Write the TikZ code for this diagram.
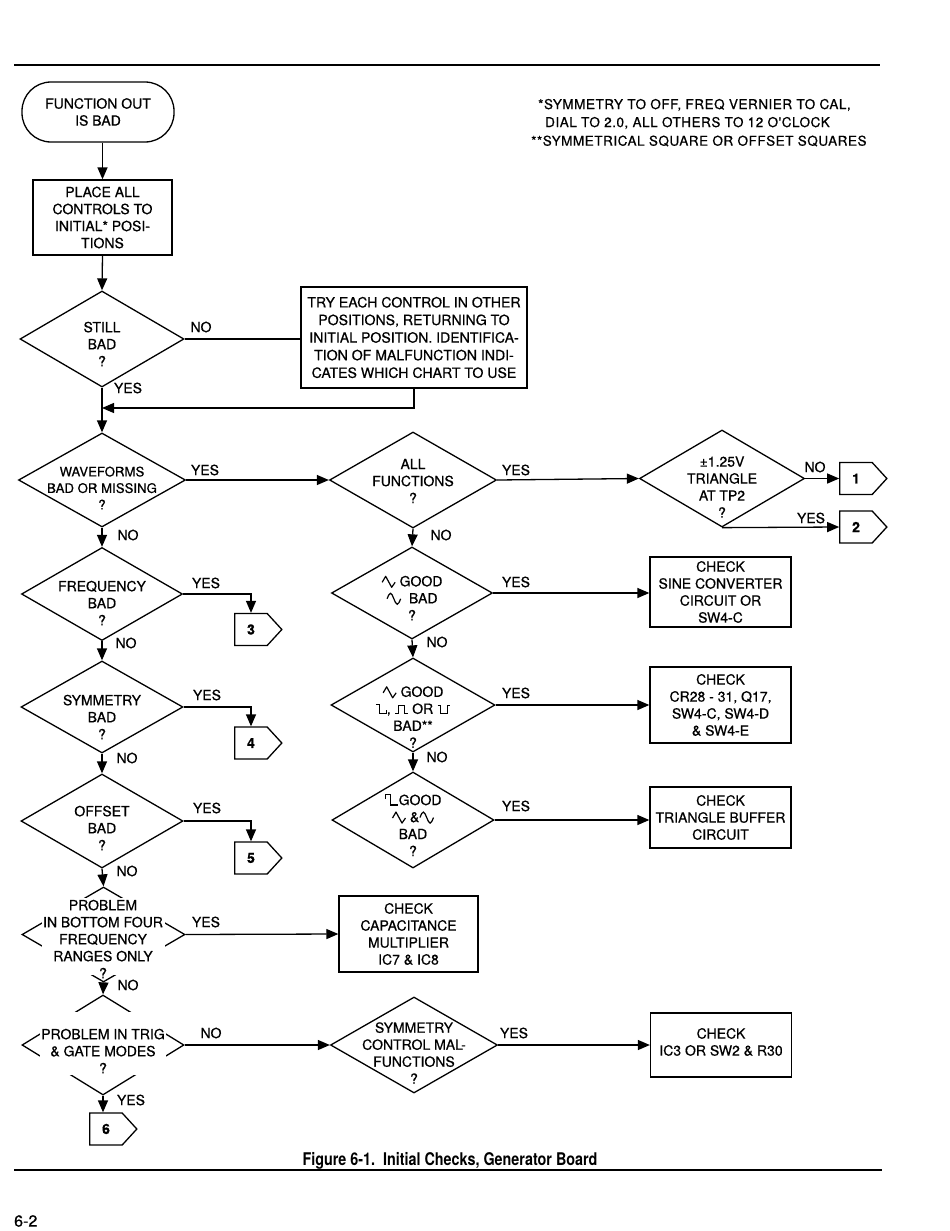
\documentclass[tikz,border=0pt]{standalone}
\usepackage{fontspec}
\setmainfont{TeX Gyre Heros}[FakeBold=0.6]
\newfontfamily\capfont{TeX Gyre Heros}[FakeStretch=0.82]
\newfontfamily\notefont{TeX Gyre Heros}[LetterSpace=4,FakeBold=0.6]
\usetikzlibrary{shapes.geometric,shapes.symbols,arrows.meta}
\newcommand{\fs}{\fontsize{14}{17}\selectfont}
\newcommand{\wtri}{\tikz[baseline=0pt,x=1pt,y=1pt]\draw[line width=1.2pt,line join=round] (0,4) -- (3.5,10) -- (9.5,-1) -- (13,4);}
\newcommand{\wsine}{\tikz[baseline=0pt,x=1pt,y=1pt]\draw[line width=1.2pt] (0,4.5) sin (3.4,10) cos (6.8,4.5) sin (10.2,-1) cos (13.6,4.5);}
\newcommand{\wsqA}{\tikz[baseline=0pt,x=1pt,y=1pt]\draw[line width=1.2pt] (0,9.5) -- (4,9.5) -- (4,0) -- (10.5,0) -- (10.5,4);}
\newcommand{\wpulse}{\tikz[baseline=0pt,x=1pt,y=1pt]\draw[line width=1.2pt] (0,0) -- (3,0) -- (3,8) -- (9.5,8) -- (9.5,0) -- (12.5,0);}
\newcommand{\wnotch}{\tikz[baseline=0pt,x=1pt,y=1pt]\draw[line width=1.2pt] (0,8) -- (3,8) -- (3,0) -- (9.5,0) -- (9.5,8) -- (12.5,8);}
\newcommand{\wsqB}{\tikz[baseline=0pt,x=1pt,y=1pt]\draw[line width=1.2pt] (0,6) -- (0,10.5) -- (5,10.5) -- (5,0) -- (13,0);}
\begin{document}
\begin{tikzpicture}[x=1pt,y=-1pt,
  every node/.style={font=\fs},
  ln/.style={line width=1.3pt},
  arr/.style={ln,-{Triangle[length=12pt,width=10pt]}},
  box/.style={draw,ln,align=center,inner sep=0pt},
  dia/.style={draw,ln,diamond,inner sep=0pt},
  txt/.style={align=center,inner sep=0pt},
  lab/.style={inner sep=0pt},
  con/.style={draw,ln,signal,signal to=east,signal pointer angle=95,inner sep=0pt,minimum width=47pt,minimum height=32pt,font=\fs\bfseries},
  mask/.style={fill=white,inner sep=0pt}]
\useasboundingbox (0,0) rectangle (950,1231);
% rules
\draw[line width=1.4pt] (14,65) -- (880,65);
\draw[line width=1.4pt] (14,1170) -- (882,1170);
% notes
\node[lab,anchor=west,font=\fontsize{13.5}{16}\selectfont\notefont] (n1) at (538,105) {*SYMMETRY TO OFF, FREQ VERNIER TO CAL,};
\node[lab,anchor=west,font=\fontsize{13.5}{16}\selectfont\notefont] (n2) at (545,123) {DIAL TO 2.0, ALL OTHERS TO 12 O'CLOCK};
\node[lab,anchor=west,font=\fontsize{13.5}{16}\selectfont\notefont] (n3) at (531,141) {**SYMMETRICAL SQUARE OR OFFSET SQUARES};
% main column
\node[draw,ln,rounded corners=29pt,minimum width=152pt,minimum height=60pt,align=center] (term) at (98,112) {FUNCTION OUT\\IS BAD};
\node[box,minimum width=139pt,minimum height=75pt] (b1) at (102.5,217.5) {PLACE ALL\\CONTROLS TO\\INITIAL* POSI-\\TIONS};
\node[dia,minimum width=164pt,minimum height=96pt] (d2) at (102,339) {};
\node[txt] (t2) at (102,344) {STILL\\BAD\\?};
\node[box,minimum width=226pt,minimum height=101pt,font=\fontsize{14.1}{17.6}\selectfont] (try) at (414,337.5) {TRY EACH CONTROL IN OTHER\\POSITIONS, RETURNING TO\\INITIAL POSITION. IDENTIFICA-\\TION OF MALFUNCTION INDI-\\CATES WHICH CHART TO USE};
\coordinate (jn) at (102,408);
\node[dia,minimum width=167pt,minimum height=94pt] (d3) at (102,480) {};
\node[txt,font=\fontsize{13.2}{16.5}\selectfont] (t3) at (102,488) {WAVEFORMS\\BAD OR MISSING\\?};
\node[dia,minimum width=167pt,minimum height=96pt] (d4) at (413,480) {};
\node[txt] (t4) at (413,481) {ALL\\FUNCTIONS\\?};
\node[dia,minimum width=165pt,minimum height=97pt] (d5) at (722,478.5) {};
\node[txt] (t5) at (722,487) {±1.25V\\TRIANGLE\\AT TP2\\?};
\node[con] (c1) at (856,478.5) {1};
\node[con] (c2) at (856,527) {2};
\node[dia,minimum width=161pt,minimum height=93pt] (d6) at (102,594) {};
\node[txt] (t6) at (102,603) {FREQUENCY\\BAD\\?};
\node[con] (c3) at (251,629.5) {3};
\node[dia,minimum width=162pt,minimum height=92pt] (d7) at (102,707) {};
\node[txt] (t7) at (102,717) {SYMMETRY\\BAD\\?};
\node[con] (c4) at (251,743) {4};
\node[dia,minimum width=162pt,minimum height=94pt] (d8) at (102,821) {};
\node[txt] (t8) at (102,828) {OFFSET\\BAD\\?};
\node[con] (c5) at (251,858) {5};
% problem bottom four
\node[dia,minimum width=163pt,minimum height=95pt] (p1) at (103.5,934.5) {};
\node[mask,minimum width=123pt,minimum height=77pt] (pm1) at (103.5,936.5) {};
\node[txt] (pt1) at (103,939) {PROBLEM\\IN BOTTOM FOUR\\FREQUENCY\\RANGES ONLY\\?};
\node[box,minimum width=139pt,minimum height=76pt] (cap) at (408.5,934) {CHECK\\CAPACITANCE\\MULTIPLIER\\IC7 \& IC8};
% problem trig
\node[dia,minimum width=162pt,minimum height=100pt] (p2) at (103,1045) {};
\node[mask,minimum width=126pt,minimum height=63pt] (pm2) at (103,1043.5) {};
\node[txt] (pt2) at (103,1051) {PROBLEM IN TRIG\\\& GATE MODES\\?};
\node[con] (c6) at (106,1129) {6};
\node[dia,minimum width=167pt,minimum height=96pt] (sc) at (414,1045) {};
\node[txt] (tsc) at (414,1053) {SYMMETRY\\CONTROL MAL-\\FUNCTIONS\\?};
\node[box,minimum width=141pt,minimum height=64pt] (ic3) at (721,1045) {};
\node[txt] (tic3) at (721,1042) {CHECK\\IC3 OR SW2 \& R30};
% right column
\node[dia,minimum width=161pt,minimum height=92pt] (d9) at (412,593) {};
\node[txt] (t9) at (412,598) {\wtri\ GOOD\\\wsine\ \ BAD\\?};
\node[box,minimum width=141pt,minimum height=70pt] (bs) at (720.5,592) {CHECK\\SINE CONVERTER\\CIRCUIT OR\\SW4-C};
\node[dia,minimum width=164pt,minimum height=94pt] (d10) at (413,705) {};
\node[txt] (t10) at (413,717) {\wtri\ GOOD\\\wsqA,\ \wpulse\ OR \wnotch\\BAD**\\?};
\node[box,minimum width=141pt,minimum height=76pt] (bc) at (720.5,705) {CHECK\\CR28 - 31, Q17,\\SW4-C, SW4-D\\\& SW4-E};
\node[dia,minimum width=162pt,minimum height=96pt] (d11) at (413,820) {};
\node[txt] (t11) at (413,825) {\wsqB GOOD\\\wtri\ \&\wsine\\BAD\\?};
\node[box,minimum width=141pt,minimum height=61pt] (bt) at (720.5,817.5) {CHECK\\TRIANGLE BUFFER\\CIRCUIT};
% connectors
\draw[arr] (b1.north |- term.south) -- (b1.north);
\draw[arr] (b1.south) -- (d2.north);
\draw[ln] (d2.east) -- (try.west |- d2.east);
\draw[arr] (try.south) |- (jn);
\draw[arr] (d2.south) -- (d3.north);
\draw[arr] (d3.east) -- (d4.west);
\draw[arr] (d4.east) -- (d5.west);
\draw[arr] (d5.east) -- (c1.west);
\draw[arr] (d5.south) -- (c2.west);
\draw[arr] (d3.south) -- (d6.north);
\draw[arr] (d6.east) -| (c3.north);
\draw[arr] (d6.south) -- (d7.north);
\draw[arr] (d7.east) -| (c4.north);
\draw[arr] (d7.south) -- (d8.north);
\draw[arr] (d8.east) -| (c5.north);
\draw[arr] (d8.south) -- (p1.north);
\draw[arr] (p1.east) -- (cap.west);
\draw[arr] (p1.south) -- (p2.north);
\draw[arr] (p2.east) -- (sc.west);
\draw[arr] (sc.east) -- (ic3.west);
\draw[arr] (p2.south) -- (c6.north -| p2.south);
\draw[arr] (d4.south) -- (d9.north);
\draw[arr] (d9.east) -- (bs.west |- d9.east);
\draw[arr] (d9.south) -- (d10.north);
\draw[arr] (d10.east) -- (bc.west |- d10.east);
\draw[arr] (d10.south) -- (d11.north);
\draw[arr] (d11.east) -- (bt.west |- d11.east);
% labels
\node[lab] (l1) at (201,327) {NO};
\node[lab] (l2) at (128,388) {YES};
\node[lab] (l3) at (205,470) {YES};
\node[lab] (l4) at (128,535) {NO};
\node[lab] (l5) at (516,470) {YES};
\node[lab] (l6) at (441,535) {NO};
\node[lab] (l7) at (815,467) {NO};
\node[lab] (l8) at (811,518) {YES};
\node[lab] (l9) at (206,583) {YES};
\node[lab] (l10) at (126,643) {NO};
\node[lab] (l11) at (207,695) {YES};
\node[lab] (l12) at (127,758) {NO};
\node[lab] (l13) at (207,808) {YES};
\node[lab] (l14) at (127,871) {NO};
\node[lab] (l15) at (516,582) {YES};
\node[lab] (l16) at (437,642) {NO};
\node[lab] (l17) at (516,693) {YES};
\node[lab] (l18) at (437,757) {NO};
\node[lab] (l19) at (516,806) {YES};
\node[lab] (l20) at (206,922) {YES};
\node[lab] (l21) at (128,985) {NO};
\node[lab] (l22) at (211,1033) {NO};
\node[lab] (l23) at (131,1100) {YES};
\node[lab] (l24) at (514,1033) {YES};
% caption
\node[lab,font=\fontsize{17.5}{20}\selectfont\capfont\bfseries] (capt) at (450,1161) {Figure 6-1.\ \ Initial Checks, Generator Board};
\node[lab,anchor=west,font=\fontsize{16}{19}\selectfont] (pg) at (14,1221) {6-2};
\end{tikzpicture}
\end{document}
